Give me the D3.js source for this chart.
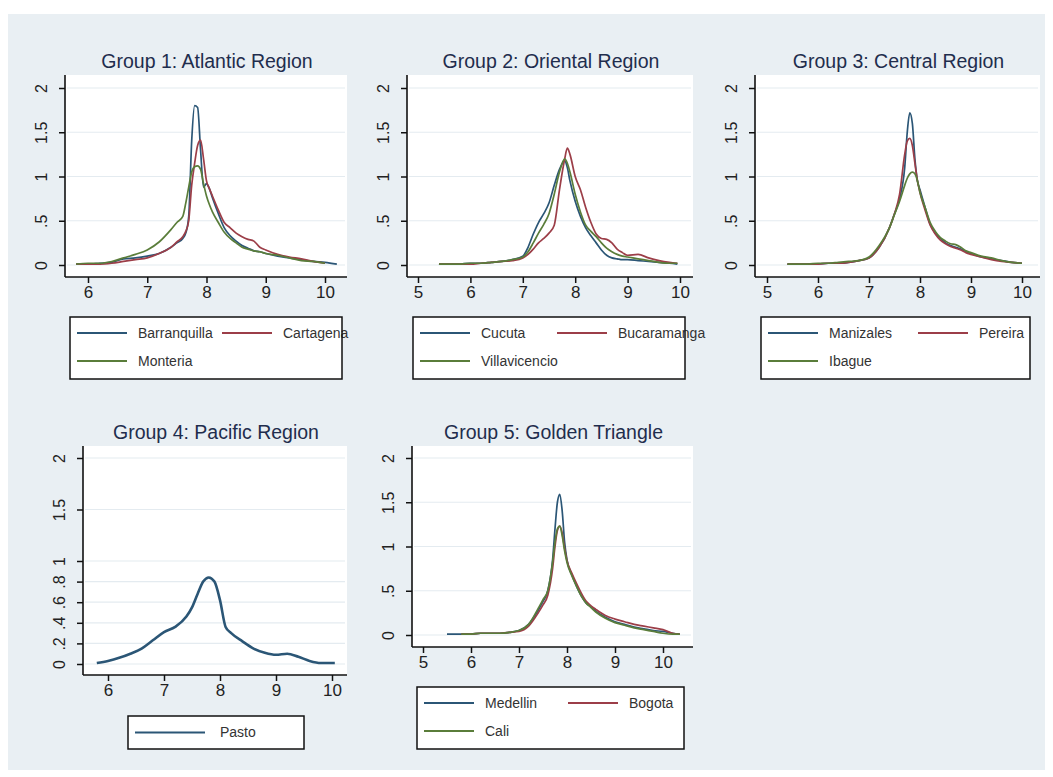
<!DOCTYPE html>
<html>
<head>
<meta charset="utf-8">
<script src="https://cdn.jsdelivr.net/npm/d3@7"></script>
<style>
  body { margin: 0; background: #fff; }
  text { font-family: "Liberation Sans", Arial, Helvetica, sans-serif; }
</style>
</head>
<body>
<svg width="1053" height="777"></svg>
<script>
// log-wage kernel densities, one grid per panel
const grid1 = [5.8,6.0,6.2,6.4,6.6,6.8,7.0,7.2,7.4,7.5,7.6,7.65,7.7,7.75,7.8,7.85,7.9,7.95,8.0,8.05,8.1,8.2,8.3,8.4,8.5,8.6,8.7,8.8,8.9,9.0,9.2,9.4,9.6,9.8,10.0,10.2];
const barranquilla = [0.01,0.01,0.02,0.03,0.07,0.08,0.10,0.13,0.20,0.25,0.30,0.36,0.55,1.40,1.80,1.78,1.30,0.88,0.92,0.86,0.76,0.58,0.42,0.33,0.27,0.22,0.19,0.16,0.15,0.13,0.10,0.08,0.06,0.04,0.03,0.01];
const cartagena = [0.01,0.01,0.01,0.02,0.04,0.06,0.08,0.13,0.20,0.26,0.32,0.38,0.50,0.90,1.15,1.35,1.41,1.20,0.95,0.86,0.78,0.62,0.48,0.42,0.36,0.32,0.29,0.27,0.20,0.17,0.12,0.09,0.07,0.04,0.02,null];
const monteria = [0.01,0.02,0.02,0.04,0.08,0.12,0.17,0.26,0.40,0.48,0.55,0.70,0.88,1.05,1.11,1.12,1.08,0.92,0.78,0.68,0.60,0.48,0.37,0.30,0.25,0.20,0.18,0.16,0.15,0.13,0.11,0.08,0.05,0.04,0.02,null];

const grid2 = [5.4,5.6,5.8,6.0,6.2,6.4,6.6,6.8,7.0,7.1,7.2,7.3,7.4,7.5,7.6,7.7,7.8,7.85,7.9,8.0,8.1,8.2,8.3,8.4,8.5,8.6,8.7,8.8,8.9,9.0,9.2,9.4,9.6,9.8,9.95];
const cucuta = [0.01,0.01,0.01,0.02,0.02,0.03,0.04,0.06,0.10,0.20,0.35,0.48,0.58,0.70,0.90,1.08,1.18,1.10,0.95,0.72,0.55,0.42,0.33,0.25,0.17,0.11,0.08,0.07,0.06,0.06,0.05,0.04,0.03,0.02,0.01];
const bucaramanga = [0.01,0.01,0.01,0.01,0.02,0.03,0.04,0.05,0.08,0.12,0.18,0.25,0.30,0.36,0.45,0.85,1.20,1.32,1.25,1.00,0.85,0.65,0.48,0.35,0.30,0.29,0.25,0.18,0.14,0.11,0.12,0.08,0.05,0.03,0.02];
const villavicencio = [0.01,0.01,0.01,0.02,0.02,0.03,0.04,0.06,0.09,0.15,0.25,0.36,0.46,0.58,0.80,1.05,1.20,1.15,1.05,0.80,0.60,0.45,0.38,0.32,0.25,0.19,0.15,0.12,0.10,0.09,0.07,0.05,0.03,0.02,0.02];

const grid3 = [5.4,5.6,5.8,6.0,6.2,6.4,6.6,6.8,7.0,7.2,7.4,7.5,7.6,7.7,7.75,7.8,7.85,7.9,7.95,8.0,8.1,8.2,8.3,8.4,8.5,8.6,8.7,8.8,8.9,9.0,9.2,9.4,9.6,9.8,10.0];
const manizales = [0.01,0.01,0.01,0.01,0.02,0.02,0.03,0.05,0.08,0.20,0.42,0.58,0.75,1.10,1.50,1.72,1.60,1.20,0.95,0.85,0.65,0.46,0.36,0.30,0.25,0.22,0.20,0.18,0.15,0.13,0.09,0.07,0.05,0.03,0.02];
const pereira = [0.01,0.01,0.01,0.01,0.02,0.02,0.03,0.05,0.08,0.20,0.42,0.58,0.80,1.25,1.40,1.43,1.35,1.15,0.95,0.82,0.62,0.45,0.35,0.28,0.24,0.21,0.19,0.17,0.14,0.12,0.09,0.06,0.04,0.03,0.02];
const ibague = [0.01,0.01,0.01,0.02,0.02,0.03,0.04,0.05,0.09,0.22,0.42,0.57,0.72,0.90,0.98,1.03,1.05,1.03,0.95,0.82,0.65,0.48,0.38,0.31,0.27,0.24,0.23,0.20,0.16,0.14,0.10,0.08,0.05,0.03,0.02];

const grid4 = [5.8,6.0,6.2,6.4,6.6,6.8,7.0,7.2,7.4,7.5,7.6,7.7,7.8,7.9,8.0,8.1,8.2,8.4,8.6,8.8,9.0,9.2,9.4,9.6,9.8,10.05];
const pasto = [0.01,0.03,0.06,0.10,0.15,0.23,0.31,0.36,0.46,0.55,0.68,0.80,0.84,0.80,0.62,0.36,0.30,0.22,0.15,0.11,0.09,0.10,0.07,0.03,0.01,0.01];

const grid5 = [5.5,5.8,6.0,6.2,6.4,6.6,6.8,7.0,7.2,7.4,7.5,7.6,7.7,7.75,7.8,7.85,7.9,7.95,8.0,8.1,8.2,8.3,8.4,8.5,8.6,8.8,9.0,9.2,9.4,9.6,9.8,10.0,10.2,10.35];
const medellin = [0.01,0.01,0.01,0.02,0.02,0.02,0.03,0.05,0.12,0.28,0.38,0.50,0.85,1.20,1.50,1.59,1.40,1.05,0.85,0.68,0.55,0.44,0.36,0.32,0.27,0.20,0.15,0.12,0.09,0.07,0.05,0.04,0.02,0.01];
const bogota = [null,0.01,0.01,0.02,0.02,0.02,0.03,0.04,0.10,0.25,0.34,0.45,0.75,1.00,1.18,1.23,1.15,0.98,0.84,0.70,0.58,0.47,0.38,0.33,0.29,0.22,0.18,0.15,0.12,0.10,0.08,0.06,0.02,0.01];
const cali = [null,0.01,0.01,0.02,0.02,0.02,0.03,0.05,0.12,0.30,0.40,0.50,0.82,1.05,1.20,1.23,1.12,0.95,0.82,0.67,0.55,0.44,0.36,0.31,0.26,0.19,0.14,0.11,0.08,0.06,0.04,0.02,0.01,0.01];

const yTicksStd = [0, 0.5, 1, 1.5, 2];
const yTicksPacific = [0, 0.2, 0.4, 0.6, 0.8, 1, 1.5, 2];
const yTickLabel = v => v === 0 ? "0" : String(v).replace(/^0\./, ".");

const colors = ["#2b5676", "#9c3e48", "#5a7d3a"];

// panel layout: plot box, x range anchor, legend box
const panels = [
  { title: "Group 1: Atlantic Region", grid: grid1, names: ["Barranquilla","Cartagena","Monteria"], values: [barranquilla, cartagena, monteria],
    L: 65, R: 347, T: 75, B: 277, xd: [6, 10], xr: [88, 325], xt: [6,7,8,9,10], y0: 265, y2: 88, yt: yTicksStd,
    leg: { x: 70, y: 317, w: 272, h: 62, c2: 145 } },
  { title: "Group 2: Oriental Region", grid: grid2, names: ["Cucuta","Bucaramanga","Villavicencio"], values: [cucuta, bucaramanga, villavicencio],
    L: 407, R: 693, T: 75, B: 277, xd: [5, 10], xr: [418, 680], xt: [5,6,7,8,9,10], y0: 265, y2: 88, yt: yTicksStd,
    leg: { x: 413, y: 317, w: 272, h: 62, c2: 137 } },
  { title: "Group 3: Central Region", grid: grid3, names: ["Manizales","Pereira","Ibague"], values: [manizales, pereira, ibague],
    L: 755, R: 1040, T: 75, B: 277, xd: [5, 10], xr: [767, 1022], xt: [5,6,7,8,9,10], y0: 265, y2: 88, yt: yTicksStd,
    leg: { x: 761, y: 317, w: 269, h: 62, c2: 150 } },
  { title: "Group 4: Pacific Region", grid: grid4, names: ["Pasto"], values: [pasto], lw: 2.6,
    L: 83, R: 347, T: 446, B: 675, xd: [6, 10], xr: [108, 332], xt: [6,7,8,9,10], y0: 664, y2: 458, yt: yTicksPacific,
    leg: { x: 128, y: 716, w: 176, h: 33, lineLen: 70 } },
  { title: "Group 5: Golden Triangle", grid: grid5, names: ["Medellin","Bogota","Cali"], values: [medellin, bogota, cali],
    L: 412, R: 693, T: 446, B: 647, xd: [5, 10], xr: [423, 663], xt: [5,6,7,8,9,10], y0: 635, y2: 458, yt: yTicksStd,
    leg: { x: 417, y: 687, w: 267, h: 62, c2: 144 } }
];

const svg = d3.select("svg");
svg.append("rect").attr("x", 8).attr("y", 14).attr("width", 1037).attr("height", 756).attr("fill", "#e9eff3");

panels.forEach(p => {
  const g = svg.append("g");
  const x = d3.scaleLinear().domain(p.xd).range(p.xr);
  const y = d3.scaleLinear().domain([0, 2]).range([p.y0, p.y2]);

  g.append("rect").attr("x", p.L).attr("y", p.T).attr("width", p.R - p.L).attr("height", p.B - p.T).attr("fill", "#fff");

  g.selectAll(".grid").data(p.yt).enter().append("line")
    .attr("x1", p.L + 2).attr("x2", p.R - 2)
    .attr("y1", d => y(d)).attr("y2", d => y(d))
    .attr("stroke", "#e4ebf0").attr("stroke-width", 1.2);

  g.append("text").attr("x", (p.L + p.R) / 2 + 1).attr("y", p.T - 7)
    .attr("text-anchor", "middle").attr("font-size", 19.5).attr("fill", "#1f2d4d")
    .text(p.title);

  const line = d3.line()
    .defined(d => d[1] != null)
    .x(d => x(d[0])).y(d => y(d[1]))
    .curve(d3.curveMonotoneX);
  p.values.forEach((vals, i) => {
    g.append("path").datum(p.grid.map((gx, j) => [gx, vals[j]]))
      .attr("fill", "none").attr("stroke", colors[i])
      .attr("stroke-width", p.lw || 1.7).attr("stroke-linejoin", "round")
      .attr("d", line);
  });

  const xa = g.append("g").attr("transform", `translate(0,${p.B})`)
    .call(d3.axisBottom(x).tickValues(p.xt).tickFormat(d3.format("d")).tickSize(6).tickPadding(3).tickSizeOuter(0));
  xa.select(".domain").remove();
  xa.selectAll("line").attr("stroke", "#111").attr("stroke-width", 1.5);
  xa.selectAll("text").attr("font-size", 17).attr("fill", "#222").style("font-family", null);

  const ya = g.append("g").attr("transform", `translate(${p.L},0)`)
    .call(d3.axisLeft(y).tickValues(p.yt).tickFormat(yTickLabel).tickSize(6).tickSizeOuter(0));
  ya.select(".domain").remove();
  ya.selectAll("line").attr("stroke", "#111").attr("stroke-width", 1.5);
  ya.selectAll("text").attr("x", null).attr("dy", null)
    .attr("transform", "translate(-18,0) rotate(-90)")
    .attr("text-anchor", "middle").attr("font-size", 16).attr("fill", "#222").style("font-family", null);

  g.append("line").attr("x1", p.L).attr("x2", p.R).attr("y1", p.B).attr("y2", p.B)
    .attr("stroke", "#111").attr("stroke-width", 1.6);
  g.append("line").attr("x1", p.L).attr("x2", p.L).attr("y1", p.T).attr("y2", p.B)
    .attr("stroke", "#111").attr("stroke-width", 1.6);

  // legend
  const lg = p.leg;
  const lgG = g.append("g").attr("transform", `translate(${lg.x},${lg.y})`);
  const lineLen = lg.lineLen || 50;
  const items = p.names.map((n, i) => ({
    name: n, color: colors[i],
    cx: (p.names.length > 1 && i === 1) ? lg.c2 : 0,
    cy: p.names.length === 1 ? lg.h / 2 : (i === 2 ? 44 : 16)
  }));
  lgG.append("rect").attr("width", lg.w).attr("height", lg.h).attr("fill", "#fff");
  const it = lgG.selectAll(".item").data(items).enter().append("g")
    .attr("transform", d => `translate(${d.cx + 7},${d.cy})`);
  it.append("line").attr("x1", 0).attr("x2", lineLen).attr("stroke", d => d.color).attr("stroke-width", 1.8);
  it.append("text").attr("x", lineLen + (p.names.length === 1 ? 15 : 11)).attr("dy", "0.35em")
    .attr("font-size", 14).attr("fill", "#333").text(d => d.name);
  lgG.append("rect").attr("width", lg.w).attr("height", lg.h)
    .attr("fill", "none").attr("stroke", "#111").attr("stroke-width", 1.5);
});
</script>
</body>
</html>
